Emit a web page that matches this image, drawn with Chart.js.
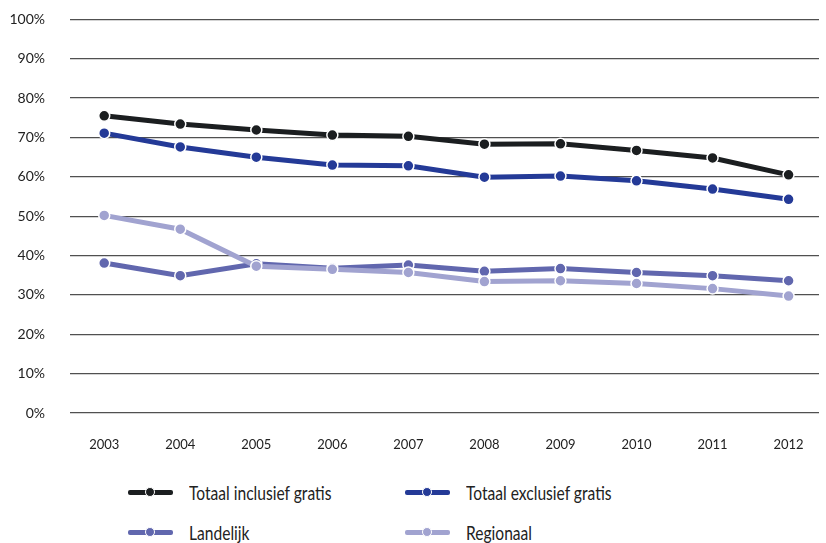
<!DOCTYPE html>
<html>
<head>
<meta charset="utf-8">
<script src="https://cdn.jsdelivr.net/npm/chart.js@4/dist/chart.umd.min.js"></script>
<style>
  body { margin: 0; background: #fff; font-family: Lato, 'Open Sans', sans-serif; }
  #wrap { position: relative; width: 826px; height: 543px; overflow: hidden; }
  #chartBox { position: absolute; left: 0; top: -14px; width: 826px; height: 474px; }
  #legend { position: absolute; left: 0; top: 480px; width: 826px; }
  .item { position: absolute; display: flex; align-items: center; font-size: 19px; color: #222; height: 24px; white-space: nowrap; }
  .item span { display: inline-block; transform: scaleX(0.82); transform-origin: left center; }
  .sample { position: relative; width: 45px; height: 5px; margin-right: 16px; }
  .sample .ln { position: absolute; left: 0; top: 0; width: 45px; height: 5px; border-radius: 2px; }
  .sample .dt { position: absolute; left: 17px; top: -3px; width: 8px; height: 8px; border-radius: 50%; border: 1.5px solid #fff; }
</style>
</head>
<body>
<div id="wrap">
  <div id="chartBox"><canvas id="lineChart"></canvas></div>
  <div id="legend"></div>
</div>
<script>
// --- Data ---
const years = [2003, 2004, 2005, 2006, 2007, 2008, 2009, 2010, 2011, 2012];
const totaalInclusief = [75.5, 73.4, 71.9, 70.6, 70.3, 68.3, 68.4, 66.7, 64.8, 60.5];
const totaalExclusief = [71.1, 67.6, 65.0, 63.0, 62.8, 59.9, 60.2, 59.0, 56.9, 54.3];
const landelijk = [38.1, 34.9, 37.9, 36.8, 37.6, 36.0, 36.7, 35.7, 34.9, 33.6];
const regionaal = [50.2, 46.7, 37.3, 36.5, 35.7, 33.4, 33.6, 32.9, 31.6, 29.7];
const yTicks = [0, 10, 20, 30, 40, 50, 60, 70, 80, 90, 100];

const series = [
    { label: 'Totaal inclusief gratis', values: totaalInclusief, color: '#1b1e20' },
    { label: 'Totaal exclusief gratis', values: totaalExclusief, color: '#243a97' },
    { label: 'Landelijk', values: landelijk, color: '#6167ae' },
    { label: 'Regionaal', values: regionaal, color: '#a1a3d0' }
];

const fontFam = "Lato, 'Open Sans', sans-serif";

const datasets = series.slice().reverse().map(s => ({
    label: s.label,
    data: years.map((y, i) => ({ x: y, y: s.values[i] })),
    borderColor: s.color,
    backgroundColor: s.color,
    borderWidth: 5,
    pointRadius: 5.5,
    pointBorderColor: '#fff',
    pointBorderWidth: 1.5,
    pointBackgroundColor: s.color,
    tension: 0
}));

new Chart(document.getElementById('lineChart').getContext('2d'), {
    type: 'line',
    data: { datasets },
    options: {
        responsive: true,
        maintainAspectRatio: false,
        animation: false,
        layout: { padding: { top: 0, right: 0, left: 0, bottom: 0 } },
        plugins: { legend: { display: false }, tooltip: { enabled: false } },
        scales: {
            x: {
                type: 'linear',
                min: 2002.55,
                max: 2012.4,
                grid: { display: false },
                border: { display: false },
                afterBuildTicks: axis => { axis.ticks = years.map(v => ({ value: v })); },
                ticks: {
                    padding: 16,
                    color: '#222',
                    font: { family: fontFam, size: 13 },
                    callback: v => String(v),
                    maxRotation: 0
                },
                afterFit: scale => { scale.height = 47; }
            },
            y: {
                min: 0,
                max: 100,
                afterBuildTicks: axis => { axis.ticks = yTicks.map(v => ({ value: v })); },
                grid: { color: '#505050', lineWidth: 1.3, drawTicks: false },
                border: { display: false },
                ticks: {
                    padding: 25,
                    color: '#222',
                    font: { family: fontFam, size: 14 },
                    callback: v => v + '%'
                },
                afterFit: scale => { scale.width = 70; }
            }
        }
    }
});

// --- Legend (two columns) ---
const legendPos = [
    { left: 128, top: 0 },
    { left: 405, top: 0 },
    { left: 128, top: 40 },
    { left: 405, top: 40 }
];
const legend = document.getElementById('legend');
legend.innerHTML = series.map((s, i) => `
    <div class="item" style="left:${legendPos[i].left}px; top:${legendPos[i].top}px;">
        <div class="sample">
            <div class="ln" style="background:${s.color}"></div>
            <div class="dt" style="background:${s.color}"></div>
        </div>
        <span>${s.label}</span>
    </div>
`).join('');
</script>
</body>
</html>
